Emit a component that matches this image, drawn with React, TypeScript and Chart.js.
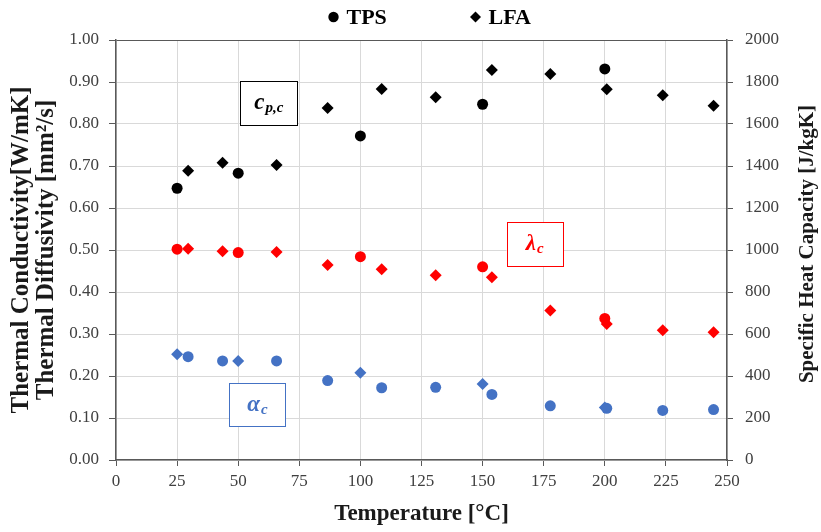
import React, { useEffect, useRef } from 'react';
import { Chart, registerables } from 'chart.js';

Chart.register(...registerables);

// Temperatures [°C]
const tpsTemps = [25, 50, 100, 150, 200];
const lfaTemps = [29.5, 43.6, 65.7, 86.6, 108.7, 130.8, 153.8, 177.7, 200.8, 223.7, 244.5];

// Specific heat capacity [J/kgK] (right axis)
const cpTps = [1294, 1366, 1543, 1694, 1862];
const cpLfa = [1377, 1415, 1405, 1676, 1767, 1727, 1857, 1838, 1765, 1737, 1687];

// Thermal conductivity [W/mK] (left axis)
const lambdaTps = [0.502, 0.494, 0.484, 0.46, 0.337];
const lambdaLfa = [0.503, 0.497, 0.495, 0.464, 0.454, 0.44, 0.435, 0.356, 0.324, 0.309, 0.304];

// Thermal diffusivity [mm²/s] (left axis)
const alphaTps = [0.252, 0.236, 0.208, 0.181, 0.125];
const alphaLfa = [0.246, 0.236, 0.236, 0.189, 0.172, 0.173, 0.156, 0.129, 0.123, 0.118, 0.12];

const xTitle = 'Temperature [°C]';
const yTitle = ['Thermal Conductivity[W/mK]', 'Thermal Diffusivity [mm²/s]'];
const y2Title = 'Specific Heat Capacity [J/kgK]';
const legendItems = [
  { label: 'TPS', style: 'circle' },
  { label: 'LFA', style: 'rectRot' },
];

const BLACK = '#000000';
const RED = '#ff0000';
const BLUE = '#4472c4';
const SERIF = '"Liberation Serif", "Times New Roman", serif';

// Text-box annotations placed in data coordinates (x: °C, y: left axis)
const annotations = [
  { main: 'c', sub: 'p,c', color: BLACK, x0: 50.9, x1: 74.1, y0: 0.798, y1: 0.902 },
  { main: 'λ', sub: 'c', color: RED, x0: 159.8, x1: 182.9, y0: 0.462, y1: 0.566 },
  { main: 'α', sub: 'c', color: BLUE, x0: 46.3, x1: 69.4, y0: 0.08, y1: 0.183 },
];

const pts = (xs: number[], ys: number[]) => xs.map((x, i) => ({ x, y: ys[i] }));

export default function App() {
  const ref = useRef<HTMLCanvasElement | null>(null);

  useEffect(() => {
    if (!ref.current) return;

    const annotationPlugin = {
      id: 'textBoxes',
      afterDatasetsDraw(chart: any) {
        const { ctx, scales } = chart;
        const xs = scales.x;
        const ys = scales.y;
        ctx.save();
        annotations.forEach((a) => {
          const l = xs.getPixelForValue(a.x0);
          const r = xs.getPixelForValue(a.x1);
          const t = ys.getPixelForValue(a.y1);
          const b = ys.getPixelForValue(a.y0);
          ctx.fillStyle = '#ffffff';
          ctx.fillRect(l, t, r - l, b - t);
          ctx.strokeStyle = a.color;
          ctx.lineWidth = 1;
          ctx.strokeRect(Math.round(l) + 0.5, Math.round(t) + 0.5, Math.round(r - l), Math.round(b - t));
          const mainFont = `italic bold 23px ${SERIF}`;
          const subFont = `italic bold 15px ${SERIF}`;
          ctx.font = mainFont;
          const mw = ctx.measureText(a.main).width;
          ctx.font = subFont;
          const sw = ctx.measureText(a.sub).width;
          const total = mw + sw + 1;
          const cx = (l + r) / 2;
          const cy = (t + b) / 2;
          const startX = cx - total / 2;
          ctx.fillStyle = a.color;
          ctx.textBaseline = 'alphabetic';
          ctx.textAlign = 'left';
          ctx.font = mainFont;
          ctx.fillText(a.main, startX, cy + 6);
          ctx.font = subFont;
          ctx.fillText(a.sub, startX + mw + 1, cy + 9);
        });
        ctx.restore();
      },
    };

    const extrasPlugin = {
      id: 'extras',
      afterDraw(chart: any) {
        const { ctx, chartArea, scales } = chart;
        ctx.save();
        // right axis title, reading bottom-to-top
        ctx.font = `bold 21px ${SERIF}`;
        ctx.fillStyle = '#1a1a1a';
        ctx.textAlign = 'center';
        ctx.textBaseline = 'middle';
        ctx.translate(scales.y2.right - 13, (chartArea.top + chartArea.bottom) / 2 - 6);
        ctx.rotate(-Math.PI / 2);
        ctx.fillText(y2Title, 0, 0);
        ctx.restore();

        // legend
        ctx.save();
        ctx.font = `bold 22px ${SERIF}`;
        ctx.textAlign = 'left';
        ctx.textBaseline = 'middle';
        const cx = (chartArea.left + chartArea.right) / 2;
        const y = 17;
        const offsets = [-88, 54];
        legendItems.forEach((it, i) => {
          const px = cx + offsets[i];
          ctx.fillStyle = BLACK;
          ctx.beginPath();
          if (it.style === 'circle') {
            ctx.arc(px, y, 5.2, 0, Math.PI * 2);
          } else {
            ctx.moveTo(px, y - 5.5);
            ctx.lineTo(px + 5.5, y);
            ctx.lineTo(px, y + 5.5);
            ctx.lineTo(px - 5.5, y);
            ctx.closePath();
          }
          ctx.fill();
          ctx.fillText(it.label, px + 13, y + 1);
        });
        ctx.restore();
      },
    };

    const tickFont = { family: SERIF, size: 17 };
    const tickColor = '#404040';
    const axisColor = '#595959';
    const gridColor = '#d9d9d9';

    const mk = (label: string, data: any[], color: string, style: string, axis: string) => ({
      label,
      data,
      yAxisID: axis,
      pointStyle: style,
      pointRadius: style === 'circle' ? 5.5 : 6,
      pointHoverRadius: style === 'circle' ? 5.5 : 6,
      backgroundColor: color,
      borderColor: color,
      borderWidth: 0,
      showLine: false,
    });

    const chart = new Chart(ref.current, {
      type: 'scatter',
      data: {
        datasets: [
          mk('TPS c_p', pts(tpsTemps, cpTps), BLACK, 'circle', 'y2'),
          mk('LFA c_p', pts(lfaTemps, cpLfa), BLACK, 'rectRot', 'y2'),
          mk('TPS λ', pts(tpsTemps, lambdaTps), RED, 'circle', 'y'),
          mk('LFA λ', pts(lfaTemps, lambdaLfa), RED, 'rectRot', 'y'),
          mk('TPS α', pts(tpsTemps, alphaTps), BLUE, 'rectRot', 'y'),
          mk('LFA α', pts(lfaTemps, alphaLfa), BLUE, 'circle', 'y'),
        ],
      },
      options: {
        animation: false,
        responsive: true,
        maintainAspectRatio: false,
        layout: { padding: { top: 40, left: 0, right: 0, bottom: 0 } },
        plugins: { legend: { display: false }, tooltip: { enabled: false } },
        scales: {
          x: {
            type: 'linear',
            min: 0,
            max: 250,
            ticks: { stepSize: 25, font: tickFont, color: tickColor, padding: 5 },
            grid: { color: gridColor, tickColor: axisColor, tickLength: 6, lineWidth: 1 },
            border: { color: axisColor, width: 1.5 },
            title: {
              display: true,
              text: xTitle,
              font: { family: SERIF, size: 23, weight: 'bold', lineHeight: 1.2 },
              color: '#1a1a1a',
              padding: { top: 0, bottom: 4 },
            },
            afterFit: (s: any) => {
              s.height = 72;
            },
          },
          y: {
            position: 'left',
            min: 0,
            max: 1,
            ticks: {
              stepSize: 0.1,
              font: tickFont,
              color: tickColor,
              padding: 10,
              callback: (v: any) => Number(v).toFixed(2),
            },
            grid: {
              color: (c: any) => (c.tick && Math.abs(c.tick.value - 1) < 1e-9 ? axisColor : gridColor),
              tickColor: axisColor,
              tickLength: 7,
            },
            border: { color: axisColor, width: 1.5 },
            title: {
              display: true,
              text: yTitle,
              font: { family: SERIF, size: 25, weight: 'bold', lineHeight: 1.0 },
              color: '#1a1a1a',
              padding: { top: 9, bottom: 0 },
            },
            afterFit: (s: any) => {
              s.width = 116;
            },
          },
          y2: {
            position: 'right',
            min: 0,
            max: 2000,
            ticks: {
              stepSize: 200,
              font: tickFont,
              color: tickColor,
              padding: 12,
              callback: (v: any) => String(Math.round(Number(v))),
            },
            grid: { drawOnChartArea: false, tickColor: axisColor, tickLength: 6 },
            border: { color: axisColor, width: 1.5 },
            afterFit: (s: any) => {
              s.width = 94;
            },
          },
        },
      },
      plugins: [annotationPlugin, extrasPlugin],
    } as any);

    return () => chart.destroy();
  }, []);

  return (
    <div style={{ position: 'absolute', left: 0, top: 0, width: 821, height: 532, background: '#fff' }}>
      <canvas ref={ref} />
    </div>
  );
}
